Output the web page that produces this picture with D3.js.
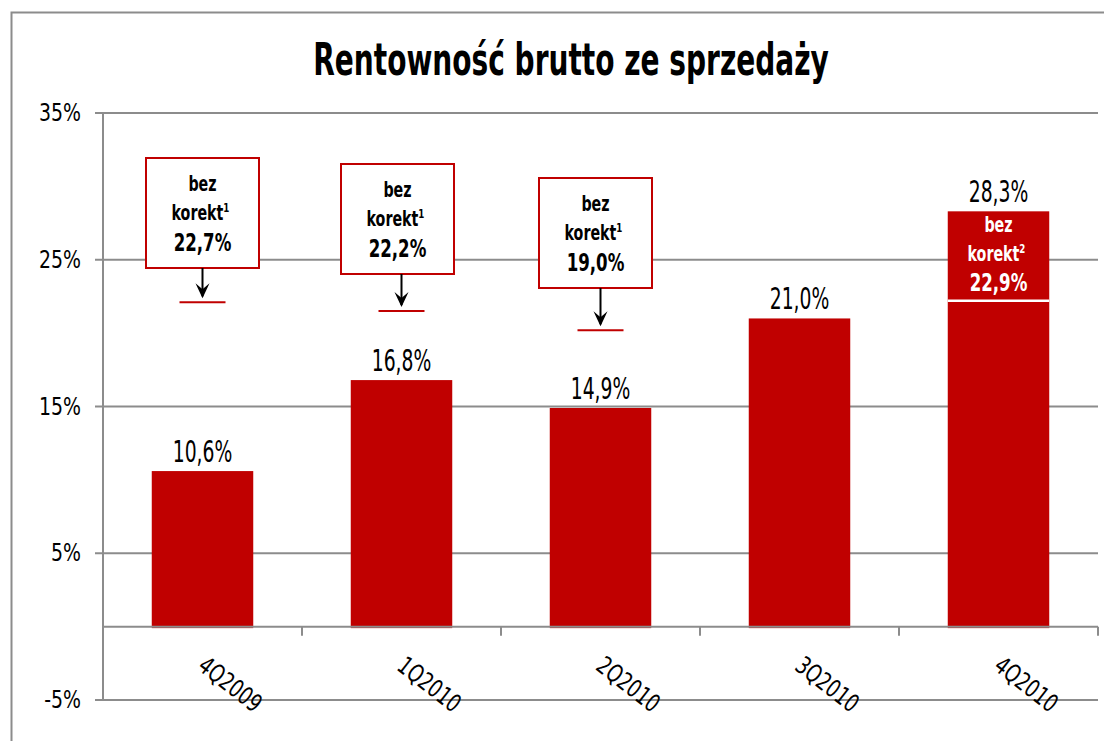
<!DOCTYPE html>
<html><head><meta charset="utf-8">
<script src="https://cdn.jsdelivr.net/npm/d3@7"></script>
<style>body{margin:0;background:#fff} svg{display:block}</style>
</head><body><svg id="c" width="1104" height="741"></svg>
<script>
// ---- data ----
const categories = ["4Q2009", "1Q2010", "2Q2010", "3Q2010", "4Q2010"];
const values = [10.6, 16.8, 14.9, 21.0, 28.3];
const valueLabels = ["10,6%", "16,8%", "14,9%", "21,0%", "28,3%"];
const yTicks = [-5, 5, 15, 25, 35];
const yTickLabels = ["-5%", "5%", "15%", "25%", "35%"];
// "bez korekt" (without adjustments) annotations
const adjCategories = ["4Q2009", "1Q2010", "2Q2010", "4Q2010"];
const adjLabels = ["22,7%", "22,2%", "19,0%", "22,9%"];
const adjNotes = ["1", "1", "1", "2"];
const adjMarkerLevels = [22.1, 21.5, 20.2, 22.2];
const title = "Rentowność brutto ze sprzedaży";

// ---- layout ----
const FONT = "'DejaVu Sans Condensed','Liberation Sans Narrow',sans-serif";
const RED = "#C00000", GRID = "#8c8c8c";
const svg = d3.select("#c");
const plot = {left: 103, right: 1098, top: 113, bottom: 700};

const x = d3.scaleBand().domain(categories).range([plot.left, plot.right])
  .paddingInner(0.49).paddingOuter(0.245);
const y = d3.scaleLinear().domain([-5, 35]).range([plot.bottom, plot.top]);

function txt(g, s, px, py, size, weight, sx, sy, anchor, fill) {
  return g.append("text")
    .attr("transform", `translate(${px},${py}) scale(${sx},${sy})`)
    .attr("text-anchor", anchor || "middle")
    .attr("font-family", FONT).attr("font-size", size)
    .attr("font-weight", weight).attr("fill", fill || "#000")
    .text(s);
}

// frame
svg.append("path").attr("d", "M11.5,741 V12.5 H1104").attr("fill", "none")
  .attr("stroke", "#8c8c8c").attr("stroke-width", 2);

// title
txt(svg, title, 571, 75, 38, "bold", 0.82, 1.15);

// gridlines + y labels
const gy = svg.append("g");
yTicks.forEach((v, i) => {
  gy.append("line").attr("x1", plot.left - 8).attr("x2", plot.right)
    .attr("y1", y(v)).attr("y2", y(v))
    .attr("stroke", GRID).attr("stroke-width", 2);
  txt(gy, yTickLabels[i], 81, y(v) + 8, 21, "normal", 1, 1.15, "end");
});

// bars
svg.append("g").selectAll("rect").data(categories).join("rect")
  .attr("x", d => x(d)).attr("width", x.bandwidth())
  .attr("y", (d, i) => y(values[i]))
  .attr("height", (d, i) => y(0) - y(values[i]) + 1.5)
  .attr("fill", RED);

// y axis vertical line
svg.append("line").attr("x1", plot.left).attr("x2", plot.left)
  .attr("y1", plot.top).attr("y2", plot.bottom)
  .attr("stroke", GRID).attr("stroke-width", 2);

// zero axis + category ticks
svg.append("line").attr("x1", plot.left).attr("x2", plot.right)
  .attr("y1", y(0)).attr("y2", y(0)).attr("stroke", GRID).attr("stroke-width", 2);
const step = x.step();
d3.range(categories.length + 1).forEach(k => {
  const bx = plot.left + k * step;
  svg.append("line").attr("x1", bx).attr("x2", bx)
    .attr("y1", y(0)).attr("y2", y(0) + 9)
    .attr("stroke", GRID).attr("stroke-width", 2);
});

// category labels (rotated)
categories.forEach(c => {
  const cx = x(c) + x.bandwidth() / 2;
  svg.append("text")
    .attr("transform", `translate(${cx - 6},${y(0) + 42}) rotate(38) scale(0.97,1.18)`)
    .attr("font-family", FONT).attr("font-size", 21)
    .attr("fill", "#000").text(c);
});

// value labels
categories.forEach((c, i) => {
  const cx = x(c) + x.bandwidth() / 2;
  txt(svg, valueLabels[i], cx, y(values[i]) - 9, 24, "normal", 0.87, 1.22);
});

// annotation boxes
const boxTop = [158, 164, 178];
const boxShift = [0, -4, -5];
const boxW = 113, boxH = 110;
adjCategories.forEach((c, i) => {
  const ci = categories.indexOf(c);
  const cx = x(c) + x.bandwidth() / 2;
  const g = svg.append("g");
  const sup = adjNotes[i];
  if (i < 3) {
    const bx = cx + boxShift[i] - boxW / 2, by = boxTop[i];
    const mid = cx + boxShift[i];
    g.append("rect").attr("x", bx).attr("y", by).attr("width", boxW).attr("height", boxH)
      .attr("fill", "#fff").attr("stroke", RED).attr("stroke-width", 2);
    txt(g, "bez", mid, by + 33, 18, "bold", 0.88, 1.15);
    const k = txt(g, "korekt", mid - 2, by + 62, 18, "bold", 0.88, 1.15);
    k.append("tspan").attr("dy", -7).attr("font-size", 11).text(sup);
    txt(g, adjLabels[i], mid, by + 93, 22, "bold", 0.84, 1.15);
    const ly = y(adjMarkerLevels[i]);
    const ax = cx;
    g.append("line").attr("x1", ax - 23).attr("x2", ax + 23).attr("y1", ly).attr("y2", ly)
      .attr("stroke", RED).attr("stroke-width", 2);
    g.append("line").attr("x1", ax).attr("x2", ax).attr("y1", by + boxH).attr("y2", ly - 6)
      .attr("stroke", "#000").attr("stroke-width", 2);
    g.append("path")
      .attr("d", `M${ax - 7},${ly - 19} L${ax},${ly - 4} L${ax + 7},${ly - 19} L${ax},${ly - 13} Z`)
      .attr("fill", "#000");
  } else {
    const ly = y(adjMarkerLevels[i]);
    const top = y(values[ci]);
    g.append("line").attr("x1", x(c)).attr("x2", x(c) + x.bandwidth())
      .attr("y1", ly).attr("y2", ly).attr("stroke", "#fff").attr("stroke-width", 2.5);
    txt(g, "bez", cx, top + 21, 18, "bold", 0.88, 1.15, "middle", "#fff");
    const k = txt(g, "korekt", cx - 2, top + 50, 18, "bold", 0.88, 1.15, "middle", "#fff");
    k.append("tspan").attr("dy", -7).attr("font-size", 11).text(sup);
    txt(g, adjLabels[i], cx, top + 80, 22, "bold", 0.84, 1.15, "middle", "#fff");
  }
});
</script></body></html>
